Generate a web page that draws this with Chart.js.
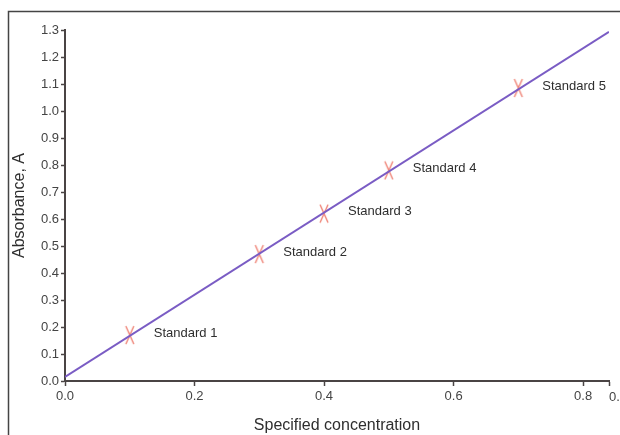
<!DOCTYPE html>
<html>
<head>
<meta charset="utf-8">
<script src="https://cdn.jsdelivr.net/npm/chart.js@4.4.0/dist/chart.umd.min.js"></script>
<style>
    html, body { margin: 0; padding: 0; background: #fff; overflow: hidden; }
    #wrap { width: 620px; height: 435px; position: relative; }
</style>
</head>
<body>
<div id="wrap"><canvas id="calChart" width="620" height="435"></canvas></div>
<script>
// Kalibrační body
const standardNames = ['Standard 1', 'Standard 2', 'Standard 3', 'Standard 4', 'Standard 5'];
const concentration = [0.1, 0.3, 0.4, 0.5, 0.7];
const absorbance = [0.17, 0.47, 0.62, 0.78, 1.085];

// Regresní přímka (konce)
const fitX = [0, 0.84];
const fitY = [0.015, 1.293];

// Popisky os
const xTicks = [0, 0.2, 0.4, 0.6, 0.8, 0.84];
const yTicks = [0, 0.1, 0.2, 0.3, 0.4, 0.5, 0.6, 0.7, 0.8, 0.9, 1.0, 1.1, 1.2, 1.3];

const FONT = '"Liberation Sans", Arial, sans-serif';

// Značka bodu - úzký křížek
function makeMarker() {
    const c = document.createElement('canvas');
    c.width = 12;
    c.height = 20;
    const g = c.getContext('2d');
    g.strokeStyle = 'rgba(236, 110, 95, 0.85)';
    g.lineWidth = 1.4;
    g.beginPath();
    g.moveTo(2, 1); g.lineTo(10, 19);
    g.moveTo(10, 1); g.lineTo(2, 19);
    g.stroke();
    return c;
}

// Rámeček a popisky bodů
const decorPlugin = {
    id: 'decor',
    beforeDraw(chart) {
        const ctx = chart.ctx;
        ctx.save();
        ctx.fillStyle = '#fff';
        ctx.fillRect(0, 0, chart.width, chart.height);
        ctx.strokeStyle = '#444';
        ctx.lineWidth = 1.5;
        ctx.beginPath();
        ctx.moveTo(8.5, chart.height);
        ctx.lineTo(8.5, 11.5);
        ctx.lineTo(chart.width, 11.5);
        ctx.stroke();
        ctx.restore();
    },
    afterDraw(chart) {
        const ctx = chart.ctx;
        const meta = chart.getDatasetMeta(1);
        ctx.save();
        ctx.font = '13px ' + FONT;
        ctx.fillStyle = '#2e2e2e';
        ctx.textBaseline = 'middle';
        ctx.textAlign = 'left';
        meta.data.forEach((pt, i) => {
            ctx.fillText(standardNames[i], pt.x + 24, pt.y - 2);
        });
        // poslední popisek osy x (oříznutý okrajem)
        const xs = chart.scales.x;
        ctx.fillStyle = '#444';
        ctx.textBaseline = 'top';
        ctx.fillText('0.84', xs.getPixelForValue(xTicks[xTicks.length - 1]), xs.top + 10);
        ctx.restore();
    }
};

new Chart(document.getElementById('calChart').getContext('2d'), {
    type: 'scatter',
    data: {
        datasets: [
            {
                type: 'line',
                data: fitX.map((x, i) => ({ x: x, y: fitY[i] })),
                borderColor: '#7a5cc4',
                borderWidth: 2,
                pointRadius: 0,
                fill: false
            },
            {
                data: concentration.map((x, i) => ({ x: x, y: absorbance[i] })),
                pointStyle: makeMarker(),
                pointRadius: 8
            }
        ]
    },
    options: {
        responsive: false,
        animation: false,
        layout: { padding: { top: 30, right: 11, left: 0, bottom: 0 } },
        plugins: {
            legend: { display: false },
            tooltip: { enabled: false }
        },
        scales: {
            x: {
                type: 'linear',
                min: 0,
                max: 0.84,
                afterBuildTicks: s => { s.ticks = xTicks.map(v => ({ value: v })); },
                afterFit: s => { s.height = 54; },
                grid: {
                    display: true,
                    drawOnChartArea: false,
                    drawTicks: true,
                    tickLength: 5,
                    tickWidth: 1.5,
                    tickColor: '#4a4444'
                },
                border: { display: true, color: '#4a4444', width: 2 },
                ticks: {
                    color: '#444',
                    font: { family: FONT, size: 13 },
                    padding: 3,
                    maxRotation: 0,
                    autoSkip: false,
                    callback: v => (v === 0.84 ? '' : v.toFixed(1))
                },
                title: {
                    display: true,
                    text: 'Specified concentration',
                    color: '#2e2e2e',
                    font: { family: FONT, size: 16 },
                    padding: { top: 2, bottom: 0 }
                }
            },
            y: {
                type: 'linear',
                min: 0,
                max: 1.3,
                afterBuildTicks: s => { s.ticks = yTicks.map(v => ({ value: v })); },
                afterFit: s => { s.width = 65; },
                grid: {
                    display: true,
                    drawOnChartArea: false,
                    drawTicks: true,
                    tickLength: 4,
                    tickWidth: 1.5,
                    tickColor: '#4a4444'
                },
                border: { display: true, color: '#4a4444', width: 2 },
                ticks: {
                    color: '#444',
                    font: { family: FONT, size: 13 },
                    padding: 2,
                    autoSkip: false,
                    callback: v => v.toFixed(1)
                },
                title: {
                    display: true,
                    text: 'Absorbance, A',
                    color: '#2e2e2e',
                    font: { family: FONT, size: 16 },
                    padding: { top: 10, bottom: 0 }
                }
            }
        }
    },
    plugins: [decorPlugin]
});
</script>
</body>
</html>
